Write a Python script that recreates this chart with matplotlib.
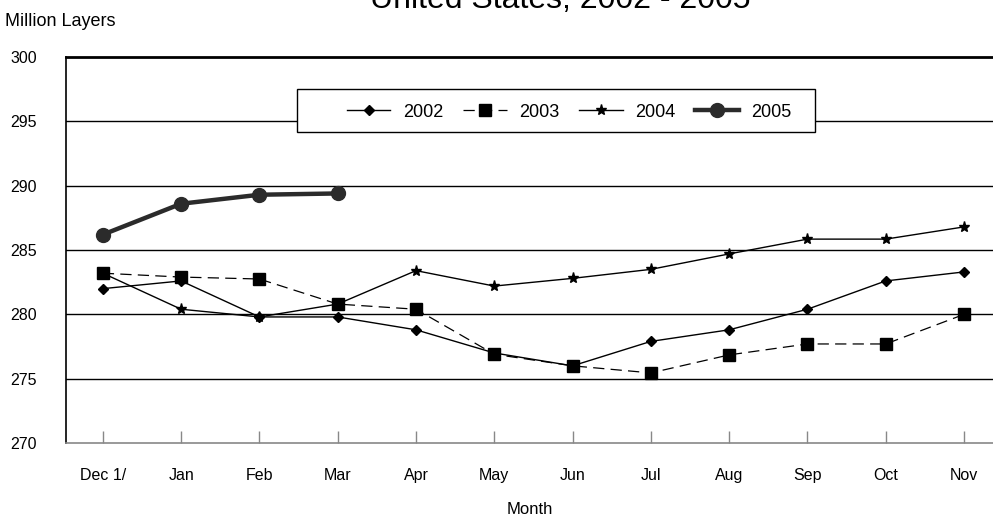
"""Egg layers by month, United States 2002-2005"""
import matplotlib
matplotlib.use("Agg")
import matplotlib.pyplot as plt
from matplotlib.patches import Rectangle

months = ["Dec 1/", "Jan", "Feb", "Mar", "Apr", "May", "Jun",
          "Jul", "Aug", "Sep", "Oct", "Nov"]
layers_2002 = [282.0, 282.6, 279.8, 279.8, 278.8, 277.0, 276.0,
               277.9, 278.8, 280.4, 282.6, 283.3]
layers_2003 = [283.2, 282.9, 282.75, 280.8, 280.4, 276.9, 276.0,
               275.45, 276.85, 277.7, 277.7, 280.0]
layers_2004 = [283.2, 280.4, 279.8, 280.8, 283.4, 282.2, 282.8,
               283.5, 284.7, 285.85, 285.85, 286.8]
layers_2005 = [286.2, 288.6, 289.3, 289.4]
y_ticks = [270, 275, 280, 285, 290, 295, 300]

plt.rcParams["font.family"] = ["Liberation Sans", "DejaVu Sans"]

fig = plt.figure(figsize=(9.93, 5.19), dpi=100)
ax = fig.add_axes([0.0665, 0.1464, 0.9335, 0.7436])
x = list(range(len(months)))

for y in y_ticks[1:-1]:
    ax.axhline(y, color="black", lw=1.0, zorder=1)
ax.axhline(300, color="black", lw=2.0, zorder=1, clip_on=False)

ax.plot(x, layers_2002, color="black", lw=1.0, marker="D", ms=5,
        label="2002", zorder=3)
ax.plot(x, layers_2003, color="black", lw=0.9, ls=(0, (9, 5)), marker="s",
        ms=8, label="2003", zorder=3)
ax.plot(x, layers_2004, color="black", lw=1.0, marker="*", ms=8,
        label="2004", zorder=3)
ax.plot(x[:len(layers_2005)], layers_2005, color="#2b2b2b", lw=3.2,
        marker="o", ms=10, label="2005", zorder=4)

ax.set_xlim(-0.47, 11.37)
ax.set_ylim(270, 300)
ax.set_yticks(y_ticks)
ax.set_xticks(x)
ax.set_xticklabels(months)
ax.tick_params(axis="x", direction="in", length=9, color="#888888",
               width=1, pad=18, labelsize=11.5)
ax.tick_params(axis="y", length=0, pad=40, labelsize=11.5)
for lbl in ax.get_yticklabels():
    lbl.set_horizontalalignment("left")

for s in ["top", "right"]:
    ax.spines[s].set_visible(False)
ax.spines["left"].set_linewidth(1.2)
ax.spines["bottom"].set_color("#888888")
ax.spines["bottom"].set_linewidth(1.2)

ax.set_xlabel("Month", fontsize=12, labelpad=14)

# legend box drawn separately so it can be wider than the entries
ax.add_patch(Rectangle((0.249, 0.806), 0.559, 0.111, transform=ax.transAxes,
                       facecolor="white", edgecolor="black", lw=1.0,
                       zorder=4.5))
ax.legend(loc="center", ncol=4, bbox_to_anchor=(0.543, 0.857),
          frameon=False, fontsize=13, handlelength=2.4, handletextpad=0.7,
          columnspacing=1.1)

fig.text(0.005, 1 - 22 / 519, "Million Layers", fontsize=13, va="center")
fig.text(0.564, 1 - 8 / 519, "United States, 2002 - 2005", fontsize=23,
         ha="center", va="baseline")

fig.savefig("out.png", dpi=100)
